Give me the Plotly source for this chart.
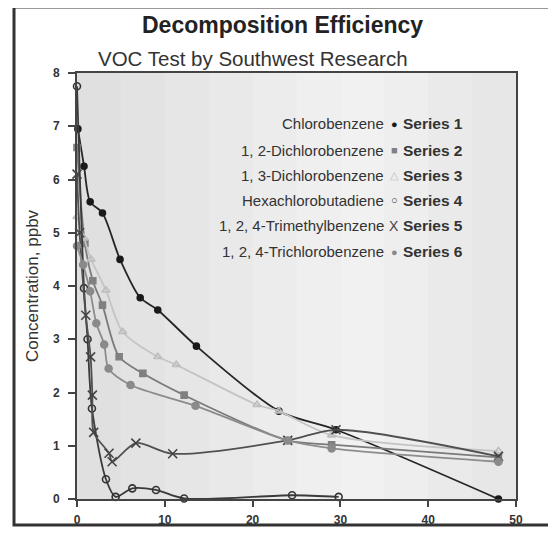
import plotly.graph_objects as go

# ---------------- data ----------------
names = ["Chlorobenzene", "1, 2-Dichlorobenzene", "1, 3-Dichlorobenzene",
         "Hexachlorobutadiene", "1, 2, 4-Trimethylbenzene", "1, 2, 4-Trichlorobenzene"]
series_labels = ["Series 1", "Series 2", "Series 3", "Series 4", "Series 5", "Series 6"]

s1_x = [0.1, 0.8, 1.5, 2.9, 4.9, 7.2, 9.2, 13.6, 23.0, 29.5, 48.0]
s1_y = [6.95, 6.25, 5.58, 5.37, 4.5, 3.78, 3.55, 2.87, 1.65, 1.3, 0.0]

s2_x = [0.0, 0.9, 1.8, 2.9, 4.8, 7.5, 12.2, 24.0, 29.0, 48.0]
s2_y = [6.6, 4.8, 4.1, 3.64, 2.67, 2.36, 1.95, 1.1, 1.02, 0.78]

s3_x = [0.0, 0.8, 1.6, 3.3, 5.2, 9.2, 11.3, 20.5, 23.0, 29.0, 48.0]
s3_y = [5.3, 4.9, 4.5, 3.92, 3.14, 2.67, 2.52, 1.77, 1.65, 1.2, 0.9]

s4_x = [0.0, 0.8, 1.2, 1.7, 3.3, 4.4, 6.3, 9.0, 12.2, 24.5, 29.8]
s4_y = [7.75, 3.96, 3.0, 1.7, 0.37, 0.04, 0.2, 0.17, 0.01, 0.07, 0.04]

s5_x = [0.0, 0.3, 1.0, 1.55, 1.75, 1.9, 3.65, 4.0, 6.7, 10.9, 24.0, 29.5, 48.0]
s5_y = [6.1, 5.0, 3.45, 2.67, 1.95, 1.25, 0.86, 0.7, 1.05, 0.85, 1.1, 1.3, 0.8]

s6_x = [0.0, 0.7, 1.5, 2.2, 3.1, 3.6, 6.1, 13.5, 24.0, 29.0, 48.0]
s6_y = [4.75, 4.4, 3.9, 3.3, 2.9, 2.45, 2.14, 1.75, 1.1, 0.95, 0.7]

x_ticks = [0, 10, 20, 30, 40, 50]
y_ticks = [0, 1, 2, 3, 4, 5, 6, 7, 8]

# ---------------- styles ----------------
xs = [s1_x, s2_x, s3_x, s4_x, s5_x, s6_x]
ys = [s1_y, s2_y, s3_y, s4_y, s5_y, s6_y]
line_colors = ["#262626", "#7a7a7a", "#c4c4c4", "#3a3a3a", "#505050", "#8c8c8c"]
marker_colors = ["#1a1a1a", "#808080", "#bdbdbd", "#333333", "#444444", "#8a8a8a"]
symbols = ["circle", "square", "triangle-up-open", "circle-open", "x-thin-open", "circle"]
sizes = [6, 6, 7, 7, 9, 7]
legend_glyphs = ["\u25CF", "\u25A0", "\u25B3", "\u25CB", "X", "\u25CF"]

FONT = "Arial, Liberation Sans, sans-serif"

# page body adds an 8 px offset; layout is expressed in reference pixels
OFF = 8
FW, FH = 556, 534
L, R, T, B = 77 - OFF, 516 - OFF, 73 - OFF, 499 - OFF
W, H = R - L, B - T


def px(x):
    return (x - OFF - L) / W


def py(y):
    return (B - (y - OFF)) / H


fig = go.Figure()

for i in range(6):
    fig.add_trace(go.Scatter(
        x=xs[i], y=ys[i], mode="lines+markers",
        line=dict(color=line_colors[i], width=1.8, shape="spline", smoothing=0.8),
        marker=dict(symbol=symbols[i], color=marker_colors[i], size=sizes[i],
                    line=dict(color=marker_colors[i], width=1.6)),
        cliponaxis=False, showlegend=False, name=names[i]))

# soft vertical gradient in the plot background
bands = ["#e0e0e0", "#e3e3e3", "#e6e6e6", "#e9e9e9", "#ececec", "#efefef",
         "#f1f1f1", "#eeeeee", "#eaeaea", "#e7e7e7"]
for k, c in enumerate(bands):
    fig.add_shape(type="rect", xref="paper", yref="paper",
                  x0=k / len(bands), x1=(k + 1) / len(bands), y0=0, y1=1,
                  fillcolor=c, line=dict(width=0), layer="below")

# outer frame
fig.add_shape(type="rect", xref="paper", yref="paper",
              x0=px(14), x1=px(553), y0=py(525), y1=py(7),
              line=dict(color="#333333", width=3), fillcolor="rgba(0,0,0,0)")

# title & subtitle
fig.add_annotation(xref="paper", yref="paper", x=px(282), y=py(25),
                   xanchor="center", yanchor="middle",
                   text="<b>Decomposition Efficiency</b>", showarrow=False,
                   font=dict(family=FONT, size=23, color="#222222"))
fig.add_annotation(xref="paper", yref="paper", x=px(253), y=py(58),
                   xanchor="center", yanchor="middle",
                   text="VOC Test by Southwest Research", showarrow=False,
                   font=dict(family=FONT, size=20.5, color="#333333"))

# legend as text rows: name, marker, series label
row_y = [124, 150, 175, 200, 226, 252]
for i in range(6):
    fig.add_annotation(xref="paper", yref="paper", x=px(386), y=py(row_y[i]),
                       xanchor="right", yanchor="middle", text=names[i],
                       showarrow=False,
                       font=dict(family=FONT, size=15, color="#333333"))
    fig.add_annotation(xref="paper", yref="paper", x=px(394), y=py(row_y[i]),
                       xanchor="center", yanchor="middle",
                       text=legend_glyphs[i], showarrow=False,
                       font=dict(family=FONT, size=11 if i != 4 else 14,
                                 color=marker_colors[i]))
    fig.add_annotation(xref="paper", yref="paper", x=px(401), y=py(row_y[i]),
                       xanchor="left", yanchor="middle",
                       text="<b>" + series_labels[i] + "</b>",
                       showarrow=False,
                       font=dict(family=FONT, size=15.5, color="#333333"))

fig.update_layout(
    width=FW, height=FH,
    margin=dict(l=L, r=FW - R, t=T, b=FH - B, pad=0),
    paper_bgcolor="white", plot_bgcolor="#e9e9e9",
    font=dict(family=FONT, color="#333333"),
    xaxis=dict(range=[0, 50], tickvals=x_ticks, ticks="outside", ticklen=6,
               tickwidth=1.5, tickcolor="#444444", showgrid=False, zeroline=False,
               showline=True, linecolor="#444444", linewidth=2, mirror=True,
               ticklabelstandoff=3,
               tickfont=dict(family=FONT, size=12, color="#333333", weight="bold")),
    yaxis=dict(range=[0, 8], tickvals=y_ticks, ticks="outside", ticklen=7,
               tickwidth=1.5, tickcolor="#444444", showgrid=False, zeroline=False,
               showline=True, linecolor="#444444", linewidth=2, mirror=True,
               ticklabelstandoff=6,
               tickfont=dict(family=FONT, size=12, color="#333333", weight="bold"),
               title=dict(text="Concentration, ppbv", standoff=10,
                          font=dict(family=FONT, size=17, color="#333333"))),
)

fig.write_html("out.html")
